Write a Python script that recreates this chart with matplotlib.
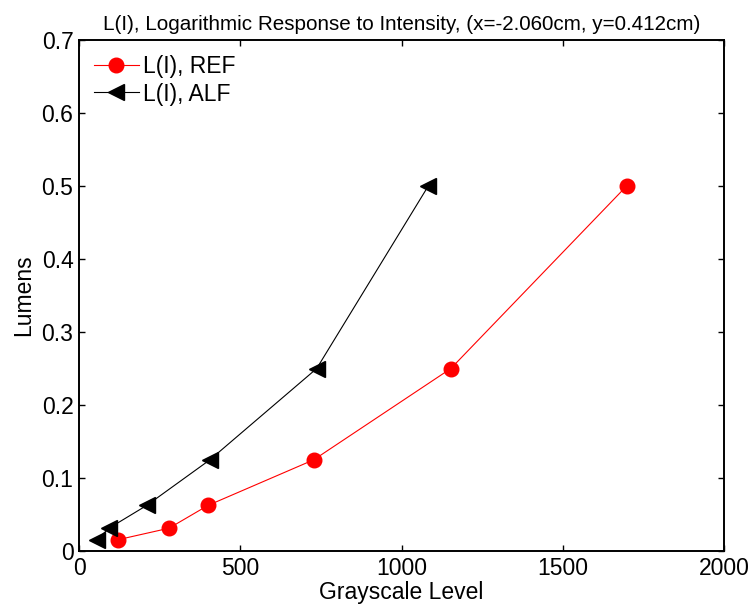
import matplotlib
matplotlib.use('Agg')
import matplotlib.pyplot as plt

plt.rcParams['font.family'] = ['Liberation Sans', 'DejaVu Sans']

# Lumens levels and grayscale level measured for each setup
lumens = [1/64, 1/32, 1/16, 1/8, 1/4, 1/2]
gray_ref = [122, 279, 400, 728, 1153, 1698]
gray_alf = [56, 93, 210, 406, 737, 1083]

fig = plt.figure(figsize=(7.54, 6.13), dpi=100)
ax = fig.add_axes([0.1048, 0.1011, 0.8554, 0.8336])

ax.plot(gray_ref, lumens, color='red', marker='o', markersize=10.5,
        linewidth=0.8, label='L(I), REF')
ax.plot(gray_alf, lumens, color='black', marker='<', markersize=11,
        linewidth=0.8, label='L(I), ALF')

ax.set_xlim(0, 2000)
ax.set_ylim(0, 0.7)
ax.set_xticks([0, 500, 1000, 1500, 2000])
ax.set_yticks([0, 0.1, 0.2, 0.3, 0.4, 0.5, 0.6, 0.7])
ax.set_yticklabels(['0', '0.1', '0.2', '0.3', '0.4', '0.5', '0.6', '0.7'])
ax.tick_params(direction='in', top=True, right=True, length=4.3, width=1,
               labelsize=16.5, pad=4)
for s in ax.spines.values():
    s.set_linewidth(1.4)

ax.set_xlabel('Grayscale Level', fontsize=16.5, labelpad=1)
ax.set_ylabel('Lumens', fontsize=16.5, labelpad=5)
ax.set_title('L(I), Logarithmic Response to Intensity, (x=-2.060cm, y=0.412cm)',
             fontsize=14.9, pad=7)

ax.legend(loc='upper left', frameon=False, fontsize=16.5, handlelength=1.96,
          handletextpad=0.17, labelspacing=0.2, borderpad=0.5,
          borderaxespad=0.15)

fig.savefig('out.png', dpi=100)
